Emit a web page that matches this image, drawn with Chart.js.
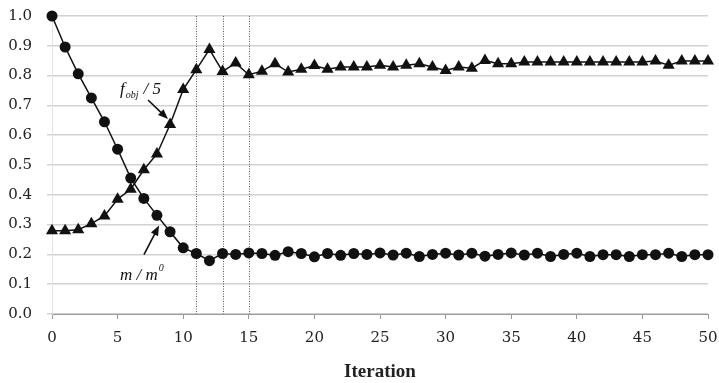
<!DOCTYPE html>
<html>
<head>
<meta charset="utf-8">
<script src="https://cdn.jsdelivr.net/npm/chart.js@4.4.0/dist/chart.umd.min.js"></script>
<style>
  html, body { margin: 0; padding: 0; background: #fff; }
  #wrap { width: 719px; height: 383px; }
</style>
</head>
<body>
<div id="wrap"><canvas id="grafico" width="719" height="383"></canvas></div>
<script>
// iteraciones 0..50
const iteraciones = []
for (let i = 0; i <= 50; i++) iteraciones.push(i)

// m / m0 (circulos)
const masaRel = [1.0, 0.896, 0.806, 0.725, 0.645, 0.553, 0.456, 0.388, 0.331, 0.276,
    0.222, 0.203, 0.179, 0.203, 0.2, 0.205, 0.203, 0.197, 0.209, 0.203,
    0.192, 0.203, 0.197, 0.203, 0.2, 0.205, 0.198, 0.204, 0.193, 0.2,
    0.204, 0.198, 0.204, 0.194, 0.2, 0.205, 0.198, 0.204, 0.193, 0.2,
    0.204, 0.193, 0.199, 0.199, 0.193, 0.199, 0.199, 0.204, 0.193, 0.199, 0.199]

// f_obj / 5 (triangulos)
const fObj5 = [0.279, 0.279, 0.283, 0.303, 0.329, 0.385, 0.419, 0.484, 0.537, 0.636,
    0.753, 0.82, 0.888, 0.814, 0.842, 0.803, 0.815, 0.84, 0.812, 0.821,
    0.834, 0.821, 0.829, 0.829, 0.829, 0.835, 0.829, 0.835, 0.84, 0.829,
    0.817, 0.829, 0.825, 0.851, 0.84, 0.84, 0.846, 0.846, 0.846, 0.846,
    0.846, 0.846, 0.846, 0.846, 0.846, 0.846, 0.849, 0.835, 0.849, 0.849, 0.849]

// lineas punteadas verticales
const marcas = [11, 13, 15]

// etiquetas con flecha (coordenadas en unidades de datos)
const etiquetaF = { x: 5.18, y: 0.731, cola: [7.32, 0.718], punta: [8.84, 0.654] }
const etiquetaM = { x: 5.18, y: 0.115, cola: [7.01, 0.199], punta: [8.16, 0.297] }

function flecha(ctx, x1, y1, x2, y2) {
    let ang = Math.atan2(y2 - y1, x2 - x1)
    let largo = 10, ancho = 4
    ctx.beginPath()
    ctx.moveTo(x1, y1)
    ctx.lineTo(x2 - Math.cos(ang) * largo * 0.8, y2 - Math.sin(ang) * largo * 0.8)
    ctx.stroke()
    ctx.beginPath()
    ctx.moveTo(x2, y2)
    ctx.lineTo(x2 - Math.cos(ang) * largo - Math.sin(ang) * ancho, y2 - Math.sin(ang) * largo + Math.cos(ang) * ancho)
    ctx.lineTo(x2 - Math.cos(ang) * largo + Math.sin(ang) * ancho, y2 - Math.sin(ang) * largo - Math.cos(ang) * ancho)
    ctx.closePath()
    ctx.fill()
}

const extras = {
    id: 'extras',
    beforeDatasetsDraw(chart) {
        const ctx = chart.ctx
        const xs = chart.scales.x, ys = chart.scales.y
        ctx.save()
        ctx.strokeStyle = '#555'
        ctx.lineWidth = 1
        ctx.setLineDash([1, 1.5])
        for (let m of marcas) {
            let px = Math.round(xs.getPixelForValue(m)) + 0.5
            ctx.beginPath()
            ctx.moveTo(px, ys.getPixelForValue(1.0))
            ctx.lineTo(px, ys.getPixelForValue(0))
            ctx.stroke()
        }
        ctx.restore()
    },
    afterDatasetsDraw(chart) {
        const ctx = chart.ctx
        const xs = chart.scales.x, ys = chart.scales.y
        ctx.save()
        ctx.fillStyle = '#111'
        ctx.strokeStyle = '#111'
        ctx.lineWidth = 1.6
        for (let e of [etiquetaF, etiquetaM]) {
            flecha(ctx, xs.getPixelForValue(e.cola[0]), ys.getPixelForValue(e.cola[1]),
                xs.getPixelForValue(e.punta[0]), ys.getPixelForValue(e.punta[1]))
        }
        ctx.textBaseline = 'alphabetic'
        ctx.textAlign = 'left'
        // f_obj / 5
        let x = xs.getPixelForValue(etiquetaF.x), y = ys.getPixelForValue(etiquetaF.y)
        ctx.font = 'italic 17px "Liberation Serif"'
        ctx.fillText('f', x, y - 2)
        x += ctx.measureText('f').width + 1
        ctx.font = 'italic 10px "Liberation Serif"'
        ctx.fillText('obj', x, y + 2)
        x += ctx.measureText('obj').width + 5
        ctx.font = 'italic 17px "Liberation Serif"'
        ctx.fillText('/ 5', x, y - 2)
        // m / m0
        x = xs.getPixelForValue(etiquetaM.x); y = ys.getPixelForValue(etiquetaM.y)
        ctx.font = 'italic 17px "Liberation Serif"'
        ctx.fillText('m / m', x, y)
        x += ctx.measureText('m / m').width + 1
        ctx.font = 'italic 10px "Liberation Serif"'
        ctx.fillText('0', x, y - 9)
        ctx.restore()
    }
}

const ctx = document.getElementById('grafico').getContext('2d')
const chart = new Chart(ctx, {
    type: 'line',
    data: {
        labels: iteraciones,
        datasets: [{
            label: 'f_obj / 5',
            data: fObj5,
            borderColor: '#111',
            backgroundColor: '#111',
            borderWidth: 1.5,
            pointStyle: 'triangle',
            pointRadius: 7,
            pointBorderWidth: 0,
            tension: 0,
            clip: false
        }, {
            label: 'm / m0',
            data: masaRel,
            borderColor: '#111',
            backgroundColor: '#111',
            borderWidth: 1.5,
            pointStyle: 'circle',
            pointRadius: 5.5,
            pointBorderWidth: 0,
            tension: 0,
            clip: false
        }]
    },
    options: {
        responsive: false,
        animation: false,
        layout: { padding: { top: 16, right: 11, left: 0, bottom: 0 } },
        plugins: { legend: { display: false }, tooltip: { enabled: false } },
        scales: {
            x: {
                type: 'linear',
                min: 0, max: 50,
                grid: { drawOnChartArea: false, drawTicks: true, tickLength: 5, color: '#999', lineWidth: 1 },
                border: { display: true, color: '#999', width: 1 },
                ticks: { stepSize: 5, padding: 10, color: '#222', font: { family: 'DejaVu Serif', size: 15 } },
                title: { display: true, text: 'Iteration', color: '#222', padding: { top: 4, bottom: 0 },
                    font: { family: 'Liberation Serif', size: 19, weight: 'bold' } },
                afterFit(scale) {
                    scale.height = 69
                    scale.paddingLeft = 0
                    scale.paddingRight = 0
                }
            },
            y: {
                min: 0, max: 1,
                grid: { color: '#d2d2d2', lineWidth: 1.5, tickLength: 5 },
                border: { display: true, color: '#e2e2e2', width: 1 },
                ticks: { stepSize: 0.1, padding: 15, color: '#222', font: { family: 'DejaVu Serif', size: 15 },
                    callback: v => v.toFixed(1) },
                afterFit(scale) {
                    scale.width = 52
                    scale.paddingTop = 0
                    scale.paddingBottom = 0
                }
            }
        }
    },
    plugins: [extras]
})
</script>
</body>
</html>
